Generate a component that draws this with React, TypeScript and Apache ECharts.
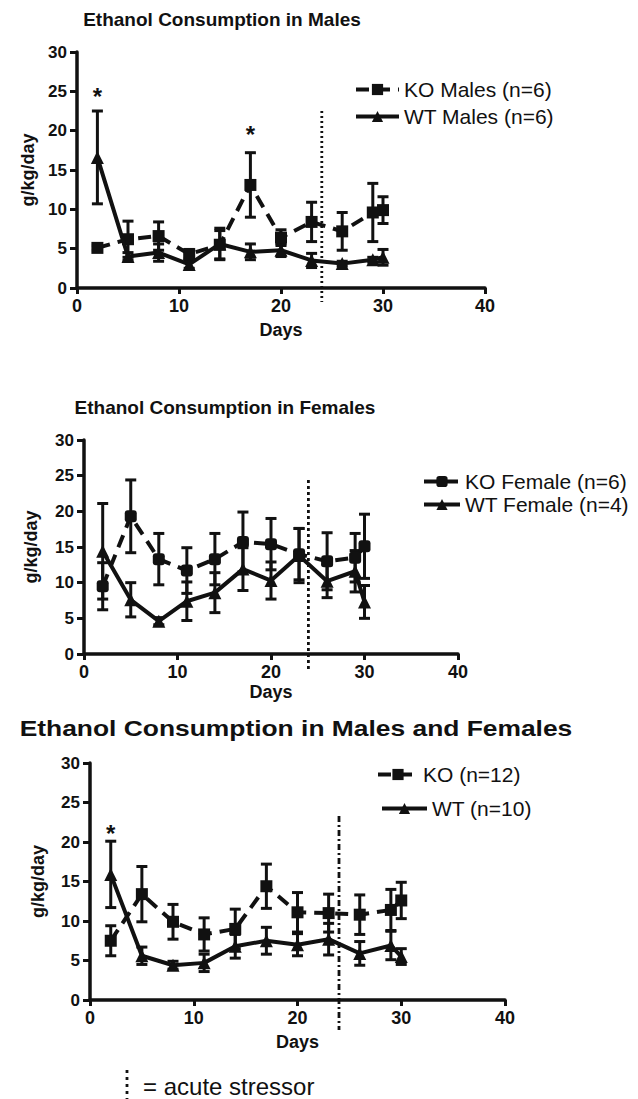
import React, { useEffect, useRef } from "react";
import * as echarts from "echarts";

// ---------- data ----------
const days = [2, 5, 8, 11, 14, 17, 20, 23, 26, 29, 30];

const koMales = [5.1, 6.2, 6.6, 4.3, 5.5, 13.1, 6.4, 8.4, 7.2, 9.6, 9.9];
const koMalesSem = [0.3, 2.3, 1.8, 0.6, 1.8, 4.1, 1.0, 2.5, 2.4, 3.7, 1.7];
const wtMales = [16.6, 4.0, 4.5, 3.0, 5.6, 4.6, 4.8, 3.5, 3.1, 3.6, 3.9];
const wtMalesSem = [5.9, 0.5, 1.1, 0.5, 2.0, 1.0, 0.8, 0.9, 0.3, 0.3, 1.0];

const koFemales = [9.5, 19.3, 13.3, 11.7, 13.3, 15.7, 15.4, 14.0, 13.0, 13.5, 15.1];
const koFemalesSem = [3.3, 5.1, 3.6, 3.2, 3.6, 4.2, 3.6, 3.6, 4.0, 3.4, 4.5];
const wtFemales = [14.4, 7.6, 4.6, 7.4, 8.6, 11.9, 10.3, 13.8, 10.2, 11.6, 7.3];
const wtFemalesSem = [6.7, 2.4, 0.5, 2.7, 2.8, 3.0, 2.6, 3.8, 2.3, 2.9, 2.3];

const koAll = [7.5, 13.4, 9.9, 8.3, 9.0, 14.4, 11.1, 11.0, 10.8, 11.4, 12.6];
const koAllSem = [1.9, 3.5, 2.2, 2.1, 2.5, 2.8, 2.5, 2.4, 2.5, 2.6, 2.3];
const wtAll = [15.9, 5.6, 4.4, 4.7, 6.8, 7.5, 7.0, 7.7, 5.9, 6.9, 5.5];
const wtAllSem = [4.2, 1.1, 0.5, 1.1, 1.5, 1.7, 1.4, 2.0, 1.5, 1.8, 1.0];

const stressorDay = 24;
const stressorTop = [22.5, 24.4, 23.3];
const sigPoints = [
  [[2, 25.0], [17, 20.2]],
  [],
  [[2, 21.7]],
];

const titles = [
  "Ethanol Consumption in Males",
  "Ethanol Consumption in Females",
  "Ethanol Consumption in Males and Females",
];
const koNames = ["KO Males (n=6)", "KO Female (n=6)", "KO (n=12)"];
const wtNames = ["WT Males (n=6)", "WT Female (n=4)", "WT (n=10)"];
const xMin = 0, xMax = 40, xStep = 10;
const yMin = 0, yMax = 30, yStep = 5;
const xName = "Days";
const yName = "g/kg/day";
const footnote = "= acute stressor";

const panelData = [
  { ko: koMales, koSem: koMalesSem, wt: wtMales, wtSem: wtMalesSem },
  { ko: koFemales, koSem: koFemalesSem, wt: wtFemales, wtSem: wtFemalesSem },
  { ko: koAll, koSem: koAllSem, wt: wtAll, wtSem: wtAllSem },
];

// ---------- layout / style ----------
const FONT = "'Liberation Sans', Arial, Helvetica, sans-serif";
const INK = "#111";

const layout = [
  {
    grid: { left: 77, top: 52, width: 408, height: 236 },
    title: { x: 222, y: 19, size: 19, sx: 1.0 },
    koLegend: { left: 354, top: 79, w: 43 },
    wtLegend: { left: 354, top: 106, w: 43 },
    yNameGap: 38, xNameGap: 33, below: 14, dash: [2, 3],
    koSymbol: "rect",
  },
  {
    grid: { left: 84, top: 440, width: 374, height: 214 },
    title: { x: 225, y: 407, size: 19, sx: 1.0 },
    koLegend: { left: 422, top: 471, w: 36 },
    wtLegend: { left: 422, top: 494, w: 36 },
    yNameGap: 44, xNameGap: 29, below: 17, dash: [3, 3],
    koSymbol: "roundRect",
  },
  {
    grid: { left: 90, top: 763, width: 415, height: 237 },
    title: { x: 296, y: 728, size: 22, sx: 1.2 },
    koLegend: { left: 376, top: 764, w: 40 },
    wtLegend: { left: 380, top: 798, w: 45 },
    yNameGap: 43, xNameGap: 33, below: 30, dash: [6, 3, 2, 3],
    koSymbol: "rect",
  },
];

function buildOption() {
  const grid: any[] = [];
  const xAxis: any[] = [];
  const yAxis: any[] = [];
  const legend: any[] = [];
  const series: any[] = [];
  const graphic: any[] = [];

  layout.forEach((L, i) => {
    grid.push({ ...L.grid, containLabel: false });
    xAxis.push({
      gridIndex: i,
      type: "value",
      min: xMin,
      max: xMax,
      interval: xStep,
      splitLine: { show: false },
      axisLine: { show: true, onZero: false, lineStyle: { color: INK, width: 3.5 } },
      axisTick: { show: true, length: 6, lineStyle: { color: INK, width: 3 } },
      axisLabel: { color: INK, fontSize: 18, fontWeight: "bold", fontFamily: FONT, margin: 9 },
      name: xName,
      nameLocation: "middle",
      nameGap: L.xNameGap,
      nameTextStyle: { color: INK, fontSize: 18, fontWeight: "bold", fontFamily: FONT },
    });
    yAxis.push({
      gridIndex: i,
      type: "value",
      min: yMin,
      max: yMax,
      interval: yStep,
      splitLine: { show: false },
      axisLine: { show: true, onZero: false, lineStyle: { color: INK, width: 3.5 } },
      axisTick: { show: true, length: 7, lineStyle: { color: INK, width: 3 } },
      axisLabel: { color: INK, fontSize: 17, fontWeight: "bold", fontFamily: FONT, margin: 10 },
      name: yName,
      nameLocation: "middle",
      nameGap: L.yNameGap,
      nameTextStyle: { color: INK, fontSize: 18, fontWeight: "bold", fontFamily: FONT },
    });

    const P = panelData[i];
    const legendCommon = {
      orient: "horizontal",
      padding: 0,
      itemHeight: 14,
      itemGap: 0,
      selectedMode: false,
      lineStyle: { width: 4 },
      textStyle: { color: INK, fontSize: 21, fontFamily: FONT },
    };
    legend.push({ ...legendCommon, data: [koNames[i]], left: L.koLegend.left, top: L.koLegend.top, itemWidth: L.koLegend.w });
    legend.push({ ...legendCommon, data: [wtNames[i]], left: L.wtLegend.left, top: L.wtLegend.top, itemWidth: L.wtLegend.w });

    // error bars (mean ± SEM)
    const errSeries = (vals: number[], sem: number[]) => ({
      type: "custom",
      xAxisIndex: i,
      yAxisIndex: i,
      silent: true,
      z: 2,
      clip: false,
      data: days.map((d, k) => [d, vals[k] - sem[k], vals[k] + sem[k]]),
      encode: { x: 0, y: [1, 2] },
      renderItem: (_p: any, api: any) => {
        const x = api.value(0);
        const lo = api.coord([x, api.value(1)]);
        const hi = api.coord([x, api.value(2)]);
        const c = 5.5;
        const style = { stroke: INK, lineWidth: 3 };
        return {
          type: "group",
          children: [
            { type: "line", shape: { x1: lo[0], y1: lo[1], x2: hi[0], y2: hi[1] }, style },
            { type: "line", shape: { x1: hi[0] - c, y1: hi[1], x2: hi[0] + c, y2: hi[1] }, style },
            { type: "line", shape: { x1: lo[0] - c, y1: lo[1], x2: lo[0] + c, y2: lo[1] }, style },
          ],
        };
      },
    });
    series.push(errSeries(P.ko, P.koSem));
    series.push(errSeries(P.wt, P.wtSem));

    series.push({
      type: "line",
      name: koNames[i],
      xAxisIndex: i,
      yAxisIndex: i,
      z: 3,
      data: days.map((d, k) => [d, P.ko[k]]),
      symbol: L.koSymbol,
      symbolSize: 12,
      itemStyle: { color: INK },
      lineStyle: { color: INK, width: 4, type: [13, 8] },
    });
    series.push({
      type: "line",
      name: wtNames[i],
      xAxisIndex: i,
      yAxisIndex: i,
      z: 4,
      data: days.map((d, k) => [d, P.wt[k]]),
      symbol: "triangle",
      symbolSize: 13,
      itemStyle: { color: INK },
      lineStyle: { color: INK, width: 4, type: "solid" },
    });

    // acute stressor line
    series.push({
      type: "custom",
      xAxisIndex: i,
      yAxisIndex: i,
      silent: true,
      z: 5,
      clip: false,
      data: [[stressorDay, stressorTop[i]]],
      encode: { x: 0, y: 1 },
      renderItem: (_p: any, api: any) => {
        const top = api.coord([api.value(0), api.value(1)]);
        const base = api.coord([api.value(0), 0]);
        return {
          type: "line",
          shape: { x1: top[0], y1: top[1], x2: top[0], y2: base[1] + L.below },
          style: { stroke: INK, lineWidth: 2.8, lineDash: L.dash },
        };
      },
    });

    // significance asterisks
    if (sigPoints[i].length) {
      series.push({
        type: "custom",
        xAxisIndex: i,
        yAxisIndex: i,
        silent: true,
        z: 6,
        clip: false,
        data: sigPoints[i],
        encode: { x: 0, y: 1 },
        renderItem: (_p: any, api: any) => {
          const p = api.coord([api.value(0), api.value(1)]);
          return {
            type: "text",
            x: p[0],
            y: p[1] + 5,
            style: {
              text: "*",
              fill: INK,
              fontSize: 24,
              fontWeight: "bold",
              fontFamily: FONT,
              align: "center",
              verticalAlign: "middle",
              textAlign: "center",
              textVerticalAlign: "middle",
            },
          };
        },
      });
    }

    graphic.push({
      type: "text",
      x: L.title.x,
      y: L.title.y,
      scaleX: L.title.sx,
      style: {
        text: titles[i],
        fill: INK,
        fontSize: L.title.size,
        fontWeight: "bold",
        fontFamily: FONT,
        textAlign: "center",
        textVerticalAlign: "middle",
        align: "center",
        verticalAlign: "middle",
      },
    });
  });

  // footnote
  graphic.push({
    type: "line",
    shape: { x1: 127, y1: 1070, x2: 127, y2: 1099 },
    style: { stroke: INK, lineWidth: 2.8, lineDash: [3, 4] },
  });
  graphic.push({
    type: "text",
    x: 143,
    y: 1086,
    style: {
      text: footnote,
      fill: INK,
      fontSize: 24,
      fontFamily: FONT,
      textAlign: "left",
      textVerticalAlign: "middle",
      align: "left",
      verticalAlign: "middle",
    },
  });

  return {
    animation: false,
    backgroundColor: "#fff",
    grid,
    xAxis,
    yAxis,
    legend,
    series,
    graphic,
  };
}

export default function App() {
  const ref = useRef<HTMLDivElement>(null);
  useEffect(() => {
    document.body.style.margin = "0";
    if (!ref.current) return;
    const chart = echarts.init(ref.current, undefined, { renderer: "svg" });
    chart.setOption(buildOption() as any);
    return () => chart.dispose();
  }, []);
  return <div ref={ref} style={{ width: 638, height: 1099, background: "#fff" }} />;
}
